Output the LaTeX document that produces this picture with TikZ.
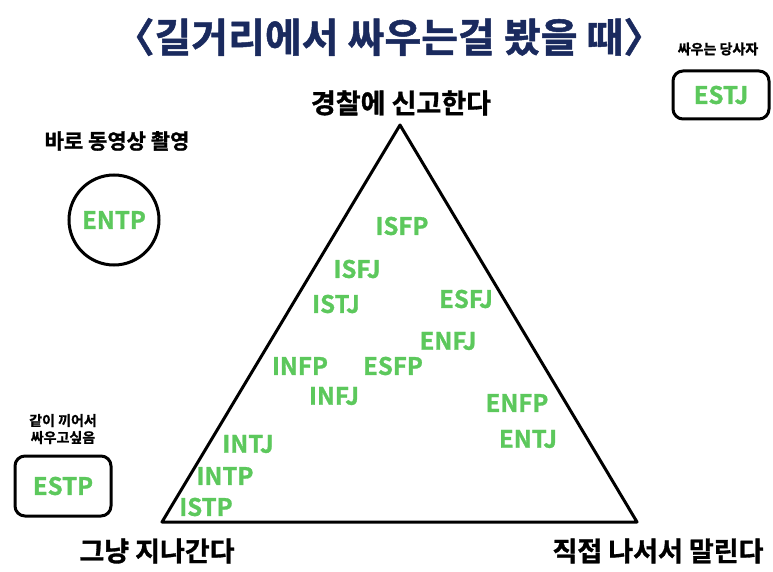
\documentclass[tikz,border=0pt]{standalone}
\usepackage{fontspec}
\setmainfont{Noto Sans CJK KR}[BoldFont={* Bold}]
\newfontfamily\heavy{Noto Sans CJK KR}[UprightFont={* Bold}, FakeBold=1.2]
\definecolor{mbti}{HTML}{5CC85C}
\definecolor{navy}{HTML}{1A2A5E}
\tikzset{
  mb/.style={text=mbti, font=\heavy\fontsize{24}{24}\selectfont, inner sep=0pt},
  lbl/.style={text=black, font=\heavy\fontsize{27}{27}\selectfont, inner sep=0pt},
  small/.style={text=black, font=\heavy\fontsize{14}{17}\selectfont, inner sep=0pt, align=center},
  edge/.style={line width=3pt, line join=round},
  box/.style={draw, line width=3pt, rounded corners=10pt}
}
\begin{document}
\begin{tikzpicture}[x=1pt,y=-1pt]
\useasboundingbox (0,0) rectangle (773,572);
\fill[white] (0,0) rectangle (773,572);
% title
\node[text=navy, font=\heavy\fontsize{40}{40}\selectfont, inner sep=0pt] (title) at (389,37) {〈길거리에서 싸우는걸 봤을 때〉};
% triangle
\coordinate (A) at (400,125);
\coordinate (B) at (162,522);
\coordinate (C) at (637,522);
\draw[edge] (A) -- (B) -- (C) -- cycle;
% corner labels
\node[lbl] (police) at (401,103) {경찰에 신고한다};
\node[lbl] (pass) at (157,551) {그냥 지나간다};
\node[lbl] (stop) at (658,551) {직접 나서서 말린다};
% ENTP circle
\node[lbl, font=\heavy\fontsize{21}{21}\selectfont] (film) at (117,141) {바로 동영상 촬영};
\node[draw, circle, line width=3pt, minimum size=90pt, inner sep=0pt] (circ) at (114,220) {};
\node[mb] (entp) at (circ.center) {ENTP};
% ESTJ box
\node[small] (party) at (718,49) {싸우는 당사자};
\node[box, minimum width=96pt, minimum height=48pt] (estjbox) at (721,95) {};
\node[mb] (estj) at (estjbox.center) {ESTJ};
% ESTP box
\node[small] (join) at (63,429) {같이 끼어서\\싸우고싶음};
\node[box, minimum width=96pt, minimum height=60pt] (estpbox) at (63,486) {};
\node[mb] (estp) at (estpbox.center) {ESTP};
% types in triangle
\node[mb] (isfp) at (402,226) {ISFP};
\node[mb] (isfj) at (357,269) {ISFJ};
\node[mb] (esfj) at (466,299) {ESFJ};
\node[mb] (istj) at (336,304) {ISTJ};
\node[mb] (enfj) at (448,341) {ENFJ};
\node[mb] (infp) at (300,366) {INFP};
\node[mb] (esfp) at (393,366) {ESFP};
\node[mb] (infj) at (334,396) {INFJ};
\node[mb] (enfp) at (517,403) {ENFP};
\node[mb] (entj) at (528,439) {ENTJ};
\node[mb] (intj) at (248,444) {INTJ};
\node[mb] (intp) at (225,476) {INTP};
\node[mb] (istp) at (206,507) {ISTP};
\end{tikzpicture}
\end{document}
